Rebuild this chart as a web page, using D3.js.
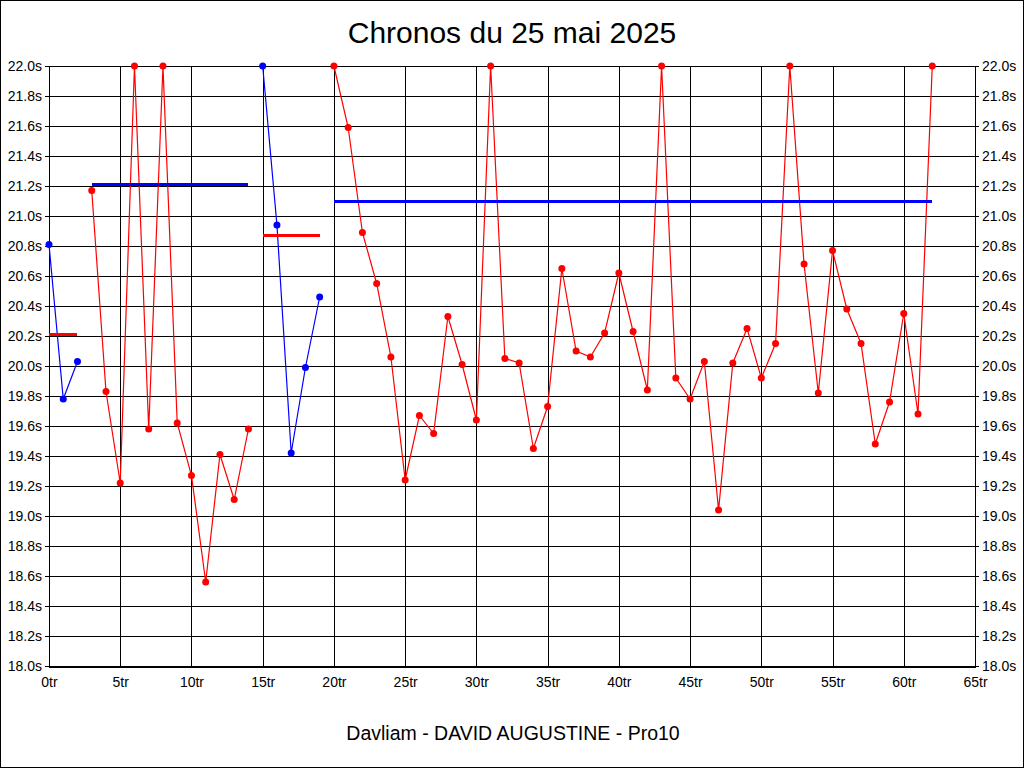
<!DOCTYPE html>
<html>
<head>
<meta charset="utf-8">
<script src="https://cdn.jsdelivr.net/npm/d3@7"></script>
<style>
  html, body { margin: 0; padding: 0; background: #fff; }
  svg { display: block; }
  text { font-family: "Liberation Sans", Arial, sans-serif; fill: #000; }
</style>
</head>
<body>
<svg id="chart" width="1024" height="768"></svg>
<script>
// ---- Data ----
const title = "Chronos du 25 mai 2025";
const footer = "Davliam - DAVID AUGUSTINE - Pro10";
// lap times (s), laps 0..62 ; values at 22.0 are clipped at the chart top
const lapTimes = [
  20.81, 19.78, 20.03,
  21.17, 19.83, 19.22, 22.0, 19.58, 22.0, 19.62, 19.27, 18.56, 19.41, 19.11, 19.58,
  22.0, 20.94, 19.42, 19.99, 20.46,
  22.0, 21.59, 20.89, 20.55, 20.06, 19.24, 19.67, 19.55, 20.33, 20.01, 19.64,
  22.0, 20.05, 20.02, 19.45, 19.73, 20.65, 20.10, 20.06, 20.22, 20.62, 20.23,
  19.84, 22.0, 19.92, 19.78, 20.03, 19.04, 20.02, 20.25, 19.92, 20.15, 22.0,
  20.68, 19.82, 20.77, 20.38, 20.15, 19.48, 19.76, 20.35, 19.68, 22.0
];
const sessionStarts = [0, 3, 15, 20];
const sessionEnds = [2, 14, 19, 62];
const sessionAverages = [20.21, 21.21, 20.87, 21.10];
const xTicks = [0, 5, 10, 15, 20, 25, 30, 35, 40, 45, 50, 55, 60, 65];
const yTicks = d3.range(0, 21).map(i => +(18 + i * 0.2).toFixed(1));

// ---- Styles ----
const seriesColors = ["#0000ff", "#ff0000", "#0000ff", "#ff0000"];
const avgColors = ["#ff0000", "#0000ff", "#ff0000", "#0000ff"];

(function () {
const svg = d3.select("#chart");
const W = 1024, H = 768;
const pL = 49, pR = 975, pT = 66, pB = 666;

const x = d3.scaleLinear().domain([0, 65]).range([pL, pR]);
const y = d3.scaleLinear().domain([18, 22]).range([pB, pT]);

// outer frame
svg.append("rect").attr("x", 0.5).attr("y", 0.5).attr("width", W - 1).attr("height", H - 1)
  .attr("fill", "#fff").attr("stroke", "#000").attr("stroke-width", 1);

// title & footer
svg.append("text").attr("x", 512).attr("y", 43).attr("text-anchor", "middle")
  .style("font-size", "30px").text(title);
svg.append("text").attr("x", 513).attr("y", 740).attr("text-anchor", "middle")
  .style("font-size", "19.5px").text(footer);

// grid
const grid = svg.append("g").attr("shape-rendering", "crispEdges");
grid.selectAll("line.h").data(yTicks).join("line")
  .attr("x1", pL - 4).attr("x2", pR + 4)
  .attr("y1", d => Math.round(y(d)) + 0.5).attr("y2", d => Math.round(y(d)) + 0.5)
  .attr("stroke", "#000").attr("stroke-width", 1);
grid.selectAll("line.v").data(xTicks).join("line")
  .attr("y1", pT).attr("y2", pB)
  .attr("x1", d => Math.round(x(d)) + 0.5).attr("x2", d => Math.round(x(d)) + 0.5)
  .attr("stroke", "#000").attr("stroke-width", 1);
// bottom axis (thicker)
grid.append("line").attr("x1", pL).attr("x2", pR + 1)
  .attr("y1", pB + 1).attr("y2", pB + 1).attr("stroke", "#000").attr("stroke-width", 2);

// axes labels via d3 axes
const fmtY = d => d.toFixed(1) + "s";
const fmtX = d => d + "tr";
const yLeft = svg.append("g").attr("transform", `translate(${pL - 4},0)`)
  .call(d3.axisLeft(y).tickValues(yTicks).tickFormat(fmtY).tickSize(0).tickPadding(3));
const yRight = svg.append("g").attr("transform", `translate(${pR + 4},0)`)
  .call(d3.axisRight(y).tickValues(yTicks).tickFormat(fmtY).tickSize(0).tickPadding(3));
const xAxis = svg.append("g").attr("transform", `translate(0,${pB + 8})`)
  .call(d3.axisBottom(x).tickValues(xTicks).tickFormat(fmtX).tickSize(0).tickPadding(3));
[yLeft, yRight, xAxis].forEach(g => {
  g.select(".domain").remove();
  g.selectAll("text").style("font-family", "'Liberation Sans', Arial, sans-serif")
    .style("font-size", "14px").attr("fill", "#000");
});

// series
const sessions = sessionStarts.map((s, i) => ({
  idx: i,
  pts: d3.range(s, sessionEnds[i] + 1).map(l => ({ lap: l, t: lapTimes[l] })),
  avg: sessionAverages[i],
  start: s,
  end: sessionEnds[i]
}));

const line = d3.line().x(d => x(d.lap)).y(d => y(Math.min(22, d.t)));

sessions.forEach(s => {
  svg.append("path").datum(s.pts).attr("d", line)
    .attr("fill", "none").attr("stroke", seriesColors[s.idx]).attr("stroke-width", 1.2);
});
sessions.forEach(s => {
  svg.append("line")
    .attr("x1", x(s.start)).attr("x2", x(s.end))
    .attr("y1", Math.round(y(s.avg)) + 0.5).attr("y2", Math.round(y(s.avg)) + 0.5)
    .attr("shape-rendering", "crispEdges")
    .attr("stroke", avgColors[s.idx]).attr("stroke-width", 3);
});
sessions.forEach(s => {
  svg.append("g").selectAll("circle").data(s.pts).join("circle")
    .attr("cx", d => x(d.lap)).attr("cy", d => y(Math.min(22, d.t)))
    .attr("r", 3.5).attr("fill", seriesColors[s.idx]);
});
})();
</script>
</body>
</html>
